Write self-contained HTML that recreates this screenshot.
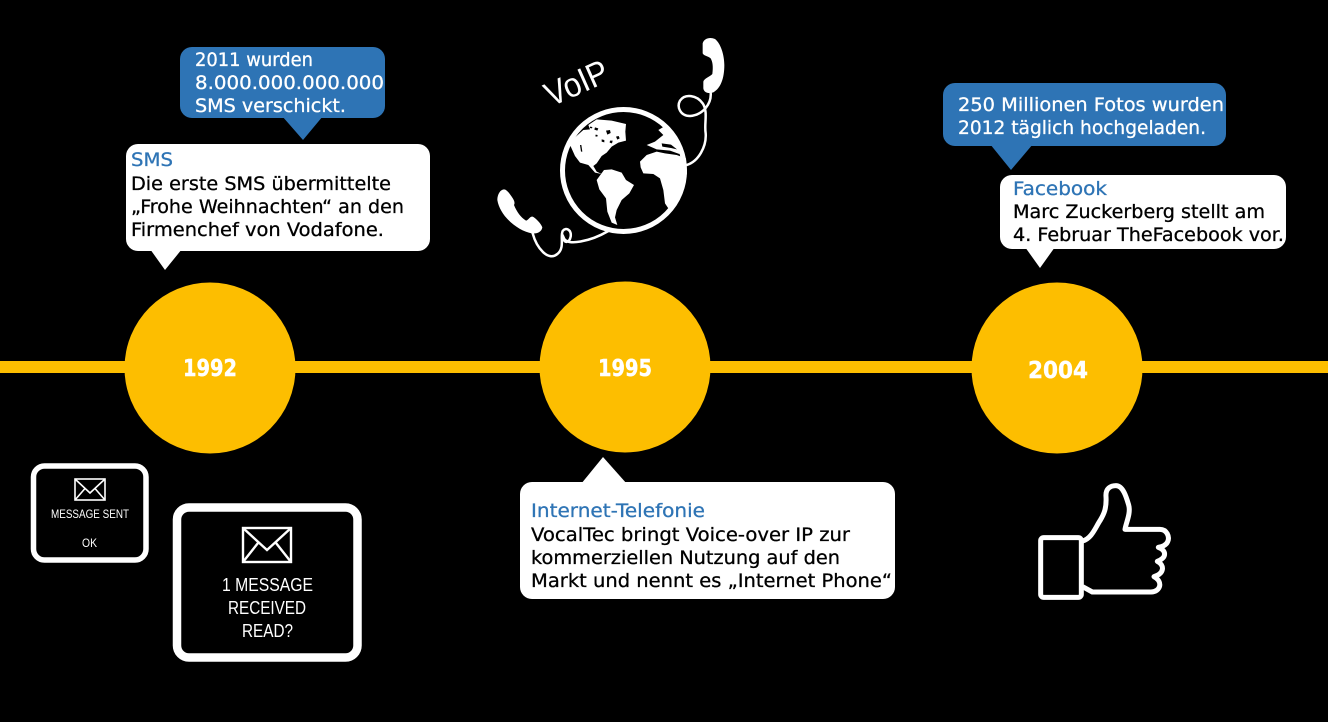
<!DOCTYPE html>
<html lang="de">
<head>
<meta charset="utf-8">
<title>Timeline</title>
<style>
html,body{margin:0;padding:0;background:#000;}
svg{display:block;}
.t{font-family:"DejaVu Sans","Liberation Sans",sans-serif;font-size:19px;stroke-width:.3;}
.k{fill:#000;stroke:#000;}
.w{fill:#fff;stroke:#fff;}
.b{fill:#2e74b5;stroke:#2e74b5;}
.y{font-family:"DejaVu Sans","Liberation Sans",sans-serif;font-size:23px;font-weight:bold;fill:#fff;stroke:#fff;stroke-width:.4;}
.m{font-family:"Liberation Sans",sans-serif;fill:#fff;}
</style>
</head>
<body>
<svg width="1328" height="722" viewBox="0 0 1328 722" xmlns="http://www.w3.org/2000/svg">
<rect width="1328" height="722" fill="#000"/>
<rect x="0" y="361" width="1328" height="12" fill="#fdbe00"/>
<circle cx="210" cy="368" r="85.5" fill="#fdbe00"/>
<circle cx="625" cy="367" r="85.5" fill="#fdbe00"/>
<circle cx="1057" cy="368" r="85.5" fill="#fdbe00"/>
<text class="y" x="183" y="376" textLength="54" lengthAdjust="spacingAndGlyphs">1992</text>
<text class="y" x="598" y="376" textLength="54" lengthAdjust="spacingAndGlyphs">1995</text>
<text class="y" x="1028" y="378" textLength="60" lengthAdjust="spacingAndGlyphs">2004</text>

<!-- SMS bubbles -->
<path d="M282 116L303 140L323 116Z" fill="#2e74b5"/>
<rect x="180" y="47" width="205" height="71" rx="12" fill="#2e74b5"/>
<text class="t w" x="195" y="66" textLength="118" lengthAdjust="spacingAndGlyphs">2011 wurden</text>
<text class="t w" x="195" y="89" textLength="189" lengthAdjust="spacingAndGlyphs">8.000.000.000.000</text>
<text class="t w" x="195" y="112" textLength="151" lengthAdjust="spacingAndGlyphs">SMS verschickt.</text>
<path d="M150 249L165 270L182 249Z" fill="#fff"/>
<rect x="126" y="144" width="304" height="107" rx="12" fill="#fff"/>
<text class="t b" x="131" y="166" textLength="42" lengthAdjust="spacingAndGlyphs">SMS</text>
<text class="t k" x="131" y="190" textLength="260" lengthAdjust="spacingAndGlyphs">Die erste SMS übermittelte</text>
<text class="t k" x="131" y="213" textLength="273" lengthAdjust="spacingAndGlyphs">„Frohe Weihnachten“ an den</text>
<text class="t k" x="131" y="236" textLength="253" lengthAdjust="spacingAndGlyphs">Firmenchef von Vodafone.</text>

<!-- Facebook bubbles -->
<path d="M990 144L1011 170L1033 144Z" fill="#2e74b5"/>
<rect x="943" y="83" width="283" height="63" rx="12" fill="#2e74b5"/>
<text class="t w" x="958" y="111" textLength="266" lengthAdjust="spacingAndGlyphs">250 Millionen Fotos wurden</text>
<text class="t w" x="958" y="134" textLength="248" lengthAdjust="spacingAndGlyphs">2012 täglich hochgeladen.</text>
<path d="M1025 247L1040 268L1055 247Z" fill="#fff"/>
<rect x="1000" y="175" width="286" height="74" rx="12" fill="#fff"/>
<text class="t b" x="1013" y="195" textLength="94" lengthAdjust="spacingAndGlyphs">Facebook</text>
<text class="t k" x="1013" y="218" textLength="252" lengthAdjust="spacingAndGlyphs">Marc Zuckerberg stellt am</text>
<text class="t k" x="1013" y="241" textLength="271" lengthAdjust="spacingAndGlyphs">4. Februar TheFacebook vor.</text>

<!-- Internet bubble -->
<path d="M581 484L603 457L627 484Z" fill="#fff"/>
<rect x="520" y="482" width="375" height="117" rx="12" fill="#fff"/>
<text class="t b" x="531" y="517" textLength="174" lengthAdjust="spacingAndGlyphs">Internet-Telefonie</text>
<text class="t k" x="531" y="541" textLength="319" lengthAdjust="spacingAndGlyphs">VocalTec bringt Voice-over IP zur</text>
<text class="t k" x="531" y="564" textLength="309" lengthAdjust="spacingAndGlyphs">kommerziellen Nutzung auf den</text>
<text class="t k" x="531" y="587" textLength="361" lengthAdjust="spacingAndGlyphs">Markt und nennt es „Internet Phone“</text>

<!-- Message boxes -->
<rect x="33.500" y="466" width="112.500" height="94" rx="11" fill="none" stroke="#fff" stroke-width="5.500"/>
<g fill="none" stroke="#fff" stroke-width="1.600">
<rect x="75" y="479" width="30" height="21"/>
<path d="M75 479L90 493L105 479M75 500L85 488.500M105 500L95 488.500"/>
</g>
<text class="m" x="51" y="518" font-size="12" textLength="78" lengthAdjust="spacingAndGlyphs">MESSAGE SENT</text>
<text class="m" x="82" y="547" font-size="12" textLength="15" lengthAdjust="spacingAndGlyphs">OK</text>
<rect x="177" y="507.500" width="180.500" height="150" rx="12" fill="none" stroke="#fff" stroke-width="8.500"/>
<g fill="none" stroke="#fff" stroke-width="2.400">
<rect x="243" y="528" width="48" height="34"/>
<path d="M243 528L267 550L291 528M243 562L258 543M291 562L276 543"/>
</g>
<text class="m" x="222" y="591" font-size="18" textLength="91" lengthAdjust="spacingAndGlyphs">1 MESSAGE</text>
<text class="m" x="228" y="614" font-size="18" textLength="78" lengthAdjust="spacingAndGlyphs">RECEIVED</text>
<text class="m" x="242" y="637" font-size="18" textLength="51" lengthAdjust="spacingAndGlyphs">READ?</text>

<!-- Thumb -->
<g transform="translate(1020 470) scale(.33333)" fill="none" stroke="#fff" stroke-width="15" stroke-linejoin="round">
<rect x="62" y="203" width="122" height="179" rx="9"/>
<path d="M188 213C215 205 225 175 240 152C252 132 260 115 258 80C256 55 272 47 288 47C310 47 320 85 326 105C333 130 318 158 315 178L420 178C440 178 450 200 443 215C438 227 425 230 415 232C438 240 443 262 412 274C434 285 434 310 402 320C430 335 422 365 393 366L217 366L188 350"/>
</g>

<!-- VoIP -->
<text class="m" transform="translate(551 107) rotate(-24)" font-size="34" textLength="66" lengthAdjust="spacingAndGlyphs">VoIP</text>

<!-- Globe and phones -->
<circle cx="623.500" cy="170.500" r="61" fill="none" stroke="#fff" stroke-width="5"/>
<g transform="translate(480 30) scale(.33333)">
<g fill="#fff">
<path d="M325 285L350 268L395 272L438 282L436 305L438 332L415 338L395 350L380 368L365 378L350 400L340 408L350 425L365 432L345 428L325 405L300 398L285 378L268 340L285 322L310 300L330 298Z"/>
<path d="M350 450L372 420L395 418L425 428L438 450L462 465L448 490L425 510L410 540L405 562L412 585L395 578L382 545L378 505L358 478Z"/>
<path d="M480 395L500 375L530 365L555 370L590 375L618 385L621 430L610 475L585 510L565 535L555 520L550 480L540 445L520 432L490 430L482 412Z"/>
<path d="M500 345L525 335L550 315L535 300L555 288L580 320L602 358L598 372L570 362L530 358Z"/>
</g>
<g fill="#000">
<path d="M345 292l10 3-3 7-9-3zM378 302l12-2 2 9-10 5zM365 328l8 2 0 7-8-2zM408 320l8-2 3 7-7 4zM347 314l6 1-1 5-6-1zM390 332l8 0-2 8-7-2zM330 290l7 1-1 4-6-1zM300 345l4 0 3 20-4 0z"/>
<path d="M545 340l28 4 18 14-18-4-26-4z"/>
</g>
<path fill="#fff" d="M668 40C672 25 690 20 705 27C722 40 733 75 733 105C733 145 722 175 700 187C685 192 672 188 670 175L670 155C672 145 690 140 697 132C700 110 698 95 692 85C685 78 672 78 668 70Z"/>
<path fill="#fff" d="M52 510C52 492 62 478 72 478C80 478 88 490 95 500C102 510 106 518 102 525C110 545 122 562 138 572C146 570 150 558 158 560C168 565 184 582 187 592C185 605 172 612 155 610C115 603 60 560 52 510Z"/>
<g fill="none" stroke="#fff" stroke-width="7.500" stroke-linecap="round">
<path d="M692 188C695 220 670 255 630 258C600 258 590 230 600 212C615 190 650 195 668 220C685 245 672 280 677 310C680 350 655 395 620 405"/>
<path d="M158 610C170 655 205 695 232 672C255 655 240 620 248 603C258 590 275 600 272 620C268 640 250 640 252 625C262 648 330 635 385 603"/>
</g>
</g>
</svg>
</body>
</html>
